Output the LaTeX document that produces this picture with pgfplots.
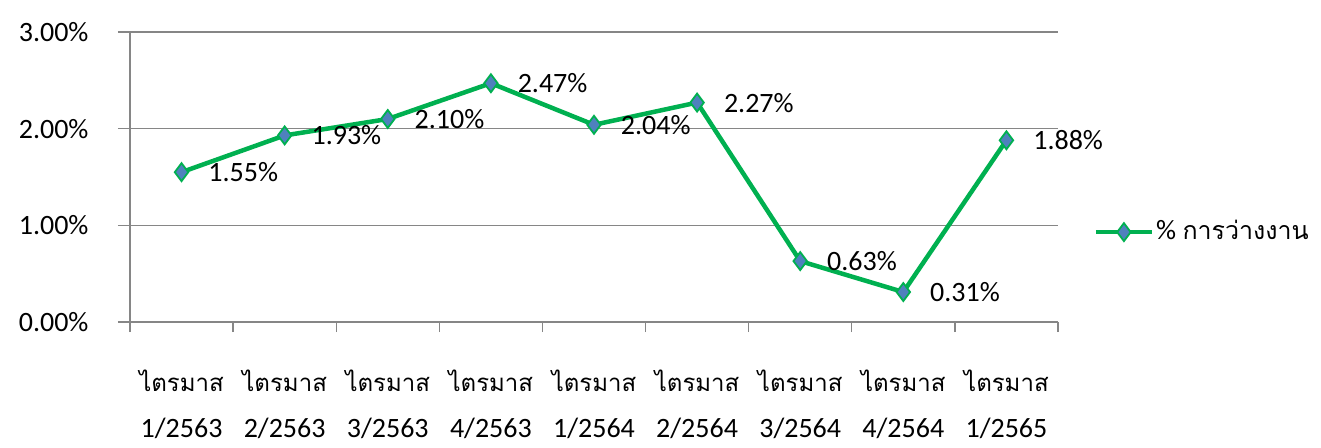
\documentclass[border=0pt]{standalone}
\usepackage{pgfplots}
\pgfplotsset{compat=1.18}
\usepackage{fontspec}
\setmainfont{Carlito}
\newfontfamily\thai[Script=Thai]{Loma}
\definecolor{lgreen}{HTML}{00B050}
\definecolor{mblue}{HTML}{4F81BD}
\definecolor{gridg}{HTML}{868686}
\newcommand{\tm}{{\fontsize{24pt}{28pt}\thai ไตรมาส}}
\begin{document}
\fontsize{28pt}{32pt}\selectfont
\begin{tikzpicture}
\begin{axis}[
 scale only axis, width=928pt, height=290pt,
 xmin=-0.5, xmax=8.5, ymin=0, ymax=3,
 axis lines=left, axis line style={-, gridg, line width=1.3pt},
 clip=false,
 ytick={0,1,2,3}, yticklabels={0.00\%,1.00\%,2.00\%,3.00\%},
 ymajorgrids, grid style={gridg, line width=1.3pt},
 xtick={0,...,8},
 xticklabels={\tm\\[14pt]1/2563,\tm\\[14pt]2/2563,\tm\\[14pt]3/2563,\tm\\[14pt]4/2563,\tm\\[14pt]1/2564,\tm\\[14pt]2/2564,\tm\\[14pt]3/2564,\tm\\[14pt]4/2564,\tm\\[14pt]1/2565},
 xticklabel style={align=center, font=\fontsize{28pt}{32pt}\selectfont, yshift=-26pt},
 yticklabel style={xshift=-20pt, font=\fontsize{28pt}{32pt}\selectfont},
 every major x tick/.style={draw=none},
 minor xtick={-0.5,0.5,...,8.5},
 every minor x tick/.style={draw=gridg, line width=1.3pt},
 tick align=outside,
 major tick length=12pt, minor tick length=10pt,
 every major y tick/.style={draw=gridg, line width=1.3pt},
 legend style={draw=none, fill=none, at={(1.035,0.31)}, anchor=west, font=\fontsize{28pt}{32pt}\selectfont},
 legend image code/.code={\draw[mark repeat=2,mark phase=2,#1] plot coordinates {(0pt,0pt)(28pt,0pt)(56pt,0pt)};},
 nodes near coords, point meta=explicit symbolic,
 every node near coord/.append style={anchor=west, inner sep=0pt, xshift=26pt, yshift=0pt, text=black, font=\fontsize{28pt}{32pt}\selectfont},
]
\addplot[color=lgreen, line width=4.5pt, mark=diamond*, mark size=9pt,
  mark options={fill=mblue, draw=lgreen, line width=1.8pt}]
 coordinates {(0,1.55)[1.55\%] (1,1.93)[1.93\%] (2,2.10)[2.10\%] (3,2.47)[2.47\%] (4,2.04)[2.04\%] (5,2.27)[2.27\%] (6,0.63)[0.63\%] (7,0.31)[0.31\%] (8,1.88)[1.88\%]};
\addlegendentry{\% {\fontsize{25pt}{28pt}\thai การว่างงาน}}
\end{axis}
\path (current axis.south west) ++(-130pt,-119pt) rectangle ++(1321pt,441pt);
\end{tikzpicture}
\end{document}
